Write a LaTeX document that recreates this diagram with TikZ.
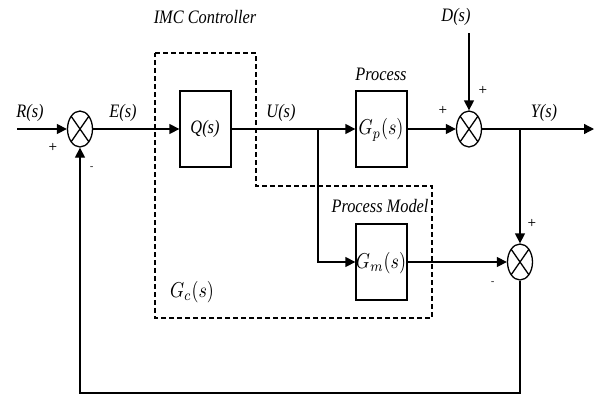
\documentclass[tikz,border=0pt]{standalone}
\usepackage{fontspec}
\usepackage{graphicx}
\setmainfont{Liberation Serif}
\usetikzlibrary{arrows.meta,shapes.geometric}
\newcommand\squash[1]{\scalebox{0.86}[1]{#1}}
\newcommand\largemath[1]{\scalebox{1.8}[2.15]{$#1$}}
\tikzset{
  wire/.style={line width=1.3pt},
  arr/.style={wire,-{Triangle[length=10pt,width=10pt]}},
  blk/.style={draw,line width=1.3pt,minimum width=51pt,minimum height=76pt,inner sep=0pt},
  sumj/.style={draw,ellipse,line width=1.3pt,minimum width=25pt,minimum height=36pt,inner sep=0pt,
    path picture={\draw[line width=1.3pt] (path picture bounding box.north west)--(path picture bounding box.south east)
      (path picture bounding box.north east)--(path picture bounding box.south west);}},
  lbl/.style={font=\fontsize{19}{19}\selectfont\itshape,inner sep=0pt},
  mlbl/.style={inner sep=0pt},
  sgn/.style={font=\sffamily\bfseries\fontsize{10}{10}\selectfont,inner sep=0pt},
  dbox/.style={line width=1.3pt,dash pattern=on 5pt off 3pt}
}
\begin{document}
\begin{tikzpicture}[x=1pt,y=-1pt]
\useasboundingbox (0,0) rectangle (595,399);
% dashed controller region
\draw[dbox] (155,53) -- (256,53) -- (256,186) -- (432,186) -- (432,318) -- (155,318) -- cycle;
% blocks
\node[blk] (Q) at (205.5,129) {};
\node[lbl] at (205,129) {\squash{Q(s)}};
\node[blk] (Gp) at (381.5,129) {};
\node[mlbl] at (381,130) {\largemath{G_p(s)}};
\node[blk] (Gm) at (381.5,262) {};
\node[mlbl] at (381,263) {\largemath{G_m(s)}};
% summing junctions
\node[sumj] (s1) at (80,129) {};
\node[sumj] (s2) at (469,129) {};
\node[sumj] (s3) at (520,262) {};
% coordinates
\coordinate (rin) at (17,129);
\coordinate (din) at (469,33);
\coordinate (yout) at (594,129);
\coordinate (bu) at (318,129);
\coordinate (bud) at (318,262);
\coordinate (by) at (520,129);
\coordinate (fb1) at (520,393);
\coordinate (fb2) at (80,393);
% connectors
\draw[arr] (rin) -- (s1.west);
\draw[arr] (s1.east) -- (Q.west);
\draw[arr] (Q.east) -- (Gp.west);
\draw[arr] (Gp.east) -- (s2.west);
\draw[arr] (din) -- (s2.north);
\draw[arr] (s2.east) -- (yout);
\draw[arr] (bu) -- (bud) -- (Gm.west);
\draw[arr] (Gm.east) -- (s3.west);
\draw[arr] (by) -- (s3.north);
\draw[arr] (s3.south) -- (fb1) -- (fb2) -- (s1.south);
% labels
\node[lbl] (lR) at (30,113) {\squash{R(s)}};
\node[lbl] (lE) at (123,113) {\squash{E(s)}};
\node[lbl] (lU) at (281,113) {\squash{U(s)}};
\node[lbl] (lY) at (544,113) {\squash{Y(s)}};
\node[lbl] (lD) at (456,17) {\squash{D(s)}};
\node[lbl] (lP) at (381,74) {\squash{Process}};
\node[lbl] (lPM) at (380,206) {\squash{Process Model}};
\node[lbl] (lIMC) at (205,17) {\squash{IMC Controller}};
\node[mlbl] (lGc) at (192,292) {\largemath{G_c(s)}};
% signs
\node[sgn] at (53,147) {+};
\node[sgn] at (92,168) {-};
\node[sgn] at (443,110) {+};
\node[sgn] at (483,90) {+};
\node[sgn] at (532,223) {+};
\node[sgn] at (493,283) {-};
\end{tikzpicture}
\end{document}
